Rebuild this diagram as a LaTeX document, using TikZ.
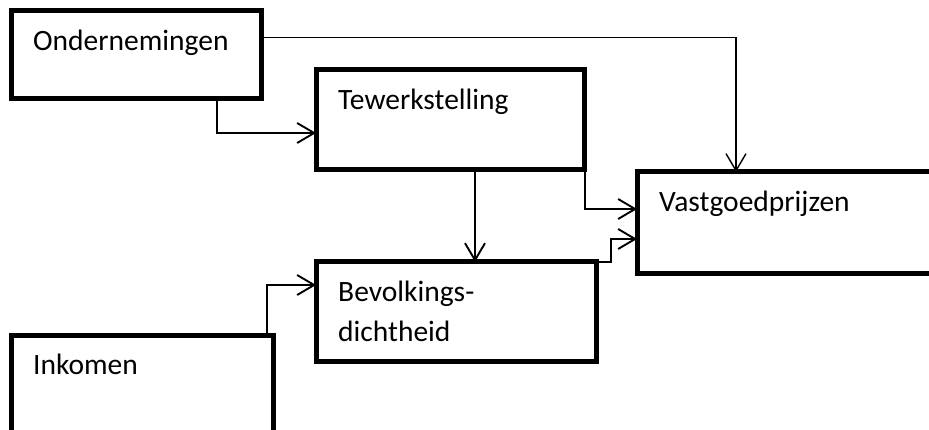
\documentclass[tikz,border=0pt]{standalone}
\usepackage{fontspec}
\setmainfont{Carlito}
\usetikzlibrary{arrows.meta}

\begin{document}
\begin{tikzpicture}[x=1pt, y=-1pt, >={Straight Barb[length=17pt, width=20pt]}]
  \tikzstyle{box} = [rectangle, draw, line width=5pt, inner sep=0pt, outer sep=0pt,
                     anchor=north west]
  \tikzstyle{txt} = [anchor=base west, inner sep=0pt, align=left, xshift=22pt, yshift=-39.5pt,
                     font=\fontsize{29.5}{40}\selectfont]
  \tikzstyle{con} = [line width=1.9pt]
\useasboundingbox (0,0) rectangle (929,430);
\clip (0,0) rectangle (929,430);
\node[box, minimum width=250pt, minimum height=88pt, label={[txt]north west:Ondernemingen}] (ond) at (11,11) {};
\node[box, minimum width=268pt, minimum height=100pt, label={[txt]north west:Tewerkstelling}] (tew) at (316,70) {};
\node[box, minimum width=330pt, minimum height=102pt, label={[txt]north west:Vastgoedprijzen}] (vast) at (637,172) {};
\node[box, minimum width=280pt, minimum height=99pt, label={[txt, yshift=-40pt]north west:Bevolkings-\\dichtheid}] (bev) at (316,262) {};
\node[box, minimum width=262pt, minimum height=145pt, label={[txt]north west:Inkomen}] (ink) at (11,335) {};
\draw[->, con] ([xshift=206pt]ond.south west) |- ([yshift=-13pt]tew.west);
\draw[->, con, line width=1.4pt] ([yshift=17.75pt]ond.east) -| ([xshift=99pt]vast.north west);
\draw[->, con] ([xshift=159pt]tew.south west) -- ([xshift=159pt]bev.north west);
\draw[->, con] ([xshift=1pt]tew.south east) |- ([yshift=14pt]vast.west);
\draw[->, con] (bev.north east) -- ++(15,0) |- ([yshift=-16pt]vast.west);
\draw[->, con] ([xshift=256pt]ink.north west) |- ([yshift=26.5pt]bev.west);
\end{tikzpicture}
\end{document}
